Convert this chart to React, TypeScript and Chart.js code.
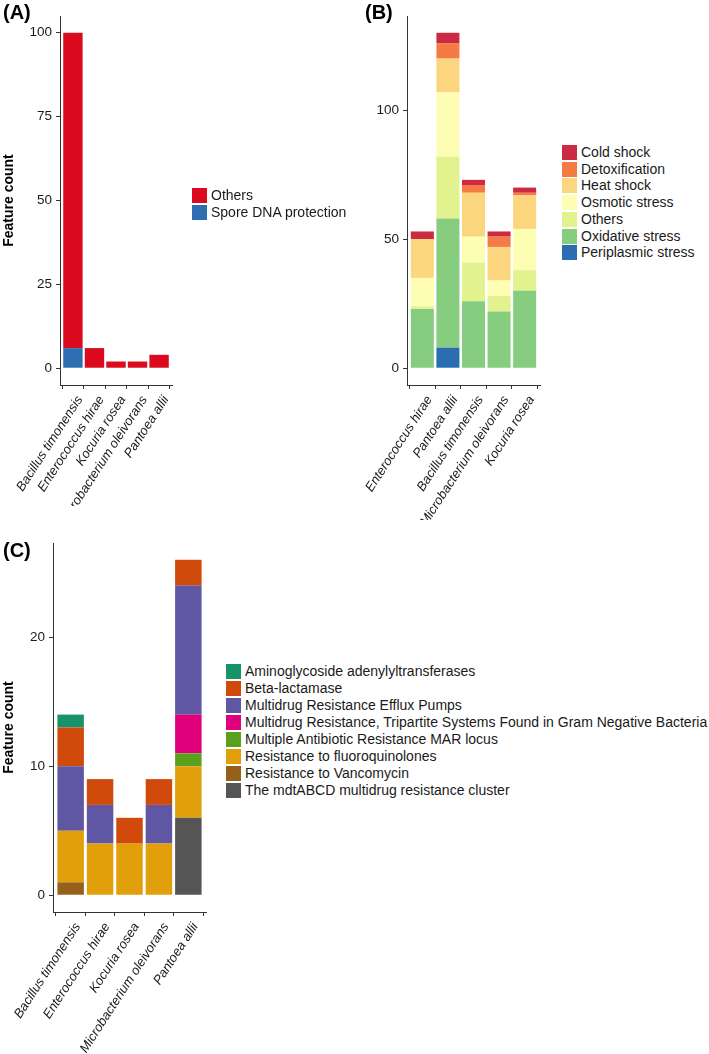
import React, { useEffect, useRef } from 'react';
import { Chart, registerables } from 'chart.js';

Chart.register(...registerables);

const FONT = '"Liberation Sans", Arial, Helvetica, sans-serif';
const TEXT = '#1a1a1a';
const AXIS = '#333333';

// ---------- Panel A ----------
const categoriesA = ['Bacillus timonensis', 'Enterococcus hirae', 'Kocuria rosea', 'Microbacterium oleivorans', 'Pantoea allii'];
const othersA = [94, 6, 2, 2, 4];
const sporeDnaA = [6, 0, 0, 0, 0];
const yTicksA = [0, 25, 50, 75, 100];

// ---------- Panel B ----------
const categoriesB = ['Enterococcus hirae', 'Pantoea allii', 'Bacillus timonensis', 'Microbacterium oleivorans', 'Kocuria rosea'];
const coldShockB = [3, 4, 2, 2, 2];
const detoxB = [0, 6, 3, 4, 1];
const heatShockB = [15, 13, 17, 13, 13];
const osmoticB = [11, 25, 10, 6, 16];
const othersB = [1, 24, 15, 6, 8];
const oxidativeB = [23, 50, 26, 22, 30];
const periplasmicB = [0, 8, 0, 0, 0];
const yTicksB = [0, 50, 100];

// ---------- Panel C ----------
const categoriesC = ['Bacillus timonensis', 'Enterococcus hirae', 'Kocuria rosea', 'Microbacterium oleivorans', 'Pantoea allii'];
const aminoC = [1, 0, 0, 0, 0];
const betaLactamaseC = [3, 2, 2, 2, 2];
const effluxC = [5, 3, 0, 3, 10];
const tripartiteC = [0, 0, 0, 0, 3];
const marLocusC = [0, 0, 0, 0, 1];
const fluoroC = [4, 4, 4, 4, 4];
const vancomycinC = [1, 0, 0, 0, 0];
const mdtC = [0, 0, 0, 0, 6];
const yTicksC = [0, 10, 20];

type Series = { label: string; data: number[]; color: string };

// legend order (top to bottom); stacking is reverse order (bottom first)
const seriesA: Series[] = [
  { label: 'Others', data: othersA, color: '#DC0A1E' },
  { label: 'Spore DNA protection', data: sporeDnaA, color: '#2E6DAF' },
];
const seriesB: Series[] = [
  { label: 'Cold shock', data: coldShockB, color: '#CC2A42' },
  { label: 'Detoxification', data: detoxB, color: '#F57B46' },
  { label: 'Heat shock', data: heatShockB, color: '#FBD67E' },
  { label: 'Osmotic stress', data: osmoticB, color: '#FDFDB4' },
  { label: 'Others', data: othersB, color: '#E1F28E' },
  { label: 'Oxidative stress', data: oxidativeB, color: '#87CD80' },
  { label: 'Periplasmic stress', data: periplasmicB, color: '#2A6DB0' },
];
const seriesC: Series[] = [
  { label: 'Aminoglycoside adenylyltransferases', data: aminoC, color: '#18926A' },
  { label: 'Beta-lactamase', data: betaLactamaseC, color: '#CF4A0B' },
  { label: 'Multidrug Resistance Efflux Pumps', data: effluxC, color: '#5F57A3' },
  { label: 'Multidrug Resistance, Tripartite Systems Found in Gram Negative Bacteria', data: tripartiteC, color: '#E0007B' },
  { label: 'Multiple Antibiotic Resistance MAR locus', data: marLocusC, color: '#5AA01E' },
  { label: 'Resistance to fluoroquinolones', data: fluoroC, color: '#E09F0B' },
  { label: 'Resistance to Vancomycin', data: vancomycinC, color: '#96601A' },
  { label: 'The mdtABCD multidrug resistance cluster', data: mdtC, color: '#555555' },
];

type PanelProps = {
  left: number;
  top: number;
  width: number;
  height: number;
  categories: string[];
  series: Series[];
  yTicks: number[];
  yTitle?: string;
  yAxisWidth: number;
  xAxisHeight: number;
  padTop: number;
  padRight: number;
};

function StackedPanel(p: PanelProps) {
  const ref = useRef<HTMLCanvasElement | null>(null);
  useEffect(() => {
    if (!ref.current) return;
    const n = p.categories.length;
    const totals = p.categories.map((_, i) => p.series.reduce((s, d) => s + d.data[i], 0));
    const maxTotal = Math.max(...totals);
    const expand = maxTotal * 0.05;
    const datasets = [...p.series].reverse().map((s) => ({
      label: s.label,
      data: s.data.map((v, i) => ({ x: i + 1, y: v })),
      backgroundColor: s.color,
      borderWidth: 0,
      barPercentage: 0.9,
      categoryPercentage: 1.0,
    }));
    const chart = new Chart(ref.current, {
      type: 'bar',
      data: { datasets: datasets as any },
      options: {
        animation: false,
        responsive: false,
        maintainAspectRatio: false,
        layout: { padding: { left: 0, top: p.padTop, right: p.padRight, bottom: 0 } },
        plugins: { legend: { display: false }, tooltip: { enabled: false } },
        scales: {
          x: {
            type: 'linear',
            stacked: true,
            min: 0.4,
            max: n + 0.6,
            offset: false,
            afterBuildTicks: (s: any) => {
              s.ticks = p.categories.map((_, i) => ({ value: i + 1 }));
            },
            afterFit: (s: any) => {
              s.height = p.xAxisHeight;
            },
            ticks: {
              autoSkip: false,
              minRotation: 57,
              maxRotation: 57,
              padding: 4,
              labelOffset: 7,
              color: TEXT,
              font: { family: FONT, size: 13, style: 'italic' },
              callback: (v: any) => p.categories[Math.round(Number(v)) - 1] ?? '',
            },
            grid: { drawOnChartArea: false, drawTicks: true, tickLength: 4, color: AXIS, lineWidth: 1 },
            border: { display: true, color: AXIS, width: 1 },
          },
          y: {
            type: 'linear',
            stacked: true,
            min: -expand,
            max: maxTotal + expand,
            afterBuildTicks: (s: any) => {
              s.ticks = p.yTicks.map((v) => ({ value: v }));
            },
            afterFit: (s: any) => {
              s.width = p.yAxisWidth;
            },
            ticks: {
              padding: 4,
              color: TEXT,
              font: { family: FONT, size: 13.5 },
            },
            grid: { drawOnChartArea: false, drawTicks: true, tickLength: 4, color: AXIS, lineWidth: 1 },
            border: { display: true, color: AXIS, width: 1 },
            title: {
              display: !!p.yTitle,
              text: p.yTitle || '',
              color: '#000',
              font: { family: FONT, size: 14, weight: 'bold' },
              padding: { top: 1, bottom: 0 },
            },
          },
        },
      } as any,
    });
    return () => chart.destroy();
  }, []);
  return (
    <canvas
      ref={ref}
      width={p.width}
      height={p.height}
      style={{ position: 'absolute', left: p.left, top: p.top, width: p.width, height: p.height }}
    />
  );
}

function Legend({ left, top, pitch, items }: { left: number; top: number; pitch: number; items: Series[] }) {
  return (
    <div style={{ position: 'absolute', left, top }}>
      {items.map((it, i) => (
        <div
          key={it.label}
          style={{
            position: 'absolute',
            left: 0,
            top: i * pitch,
            height: 15,
            display: 'flex',
            alignItems: 'center',
            whiteSpace: 'nowrap',
          }}
        >
          <span style={{ display: 'inline-block', width: 15, height: 15, background: it.color }} />
          <span style={{ marginLeft: 4, font: `14px ${FONT}`, color: TEXT, lineHeight: '15px' }}>{it.label}</span>
        </div>
      ))}
    </div>
  );
}

function PanelTag({ left, top, text }: { left: number; top: number; text: string }) {
  return (
    <div
      style={{
        position: 'absolute',
        left,
        top,
        font: `bold 20px ${FONT}`,
        lineHeight: '20px',
        color: '#000',
      }}
    >
      {text}
    </div>
  );
}

export default function App() {
  return (
    <div style={{ position: 'absolute', left: 0, top: 0, width: 709, height: 1054, background: '#fff', overflow: 'hidden' }}>
      <StackedPanel
        left={0}
        top={0}
        width={200}
        height={506}
        categories={categoriesA}
        series={seriesA}
        yTicks={yTicksA}
        yTitle="Feature count"
        yAxisWidth={60}
        xAxisHeight={121}
        padTop={16}
        padRight={28}
      />
      <Legend left={192} top={188} pitch={17} items={seriesA} />
      <PanelTag left={3} top={2} text="(A)" />

      <StackedPanel
        left={345}
        top={0}
        width={215}
        height={520}
        categories={categoriesB}
        series={seriesB}
        yTicks={yTicksB}
        yAxisWidth={62}
        xAxisHeight={135}
        padTop={16}
        padRight={20}
      />
      <Legend left={562} top={145} pitch={16.7} items={seriesB} />
      <PanelTag left={365} top={2} text="(B)" />

      <StackedPanel
        left={0}
        top={520}
        width={215}
        height={534}
        categories={categoriesC}
        series={seriesC}
        yTicks={yTicksC}
        yTitle="Feature count"
        yAxisWidth={53}
        xAxisHeight={142}
        padTop={23}
        padRight={9}
      />
      <Legend left={226} top={664} pitch={17} items={seriesC} />
      <PanelTag left={3} top={540} text="(C)" />
    </div>
  );
}
